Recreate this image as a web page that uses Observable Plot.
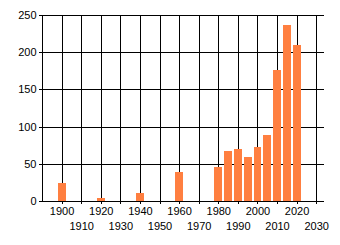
<!DOCTYPE html>
<html>
<head>
<meta charset="utf-8">
<script src="https://cdn.jsdelivr.net/npm/d3@7"></script>
<script src="https://cdn.jsdelivr.net/npm/@observablehq/plot@0.6"></script>
<style>
  html, body { margin: 0; padding: 0; background: #fff; }
  svg line, svg path, svg rect { shape-rendering: crispEdges; }
</style>
</head>
<body>
<div id="chart"></div>
<script>
const years = [1900, 1920, 1940, 1960, 1980, 1985, 1990, 1995, 2000, 2005, 2010, 2015, 2020];
const values = [24, 4, 11, 39, 46, 67, 70, 59, 73, 89, 176, 236, 210];
const xTicksRow1 = [1900, 1920, 1940, 1960, 1980, 2000, 2020];
const xTicksRow2 = [1910, 1930, 1950, 1970, 1990, 2010, 2030];
const xTicksAll = [...xTicksRow1, ...xTicksRow2].sort((a, b) => a - b);
const yTicks = [0, 50, 100, 150, 200, 250];

const data = years.map((year, i) => ({year, value: values[i]}));
const halfBar = 2;

const chart = Plot.plot({
  width: 340,
  height: 245,
  marginLeft: 42,
  marginRight: 16,
  marginTop: 15,
  marginBottom: 44,
  style: {fontFamily: "Liberation Sans, Arial, sans-serif", fontSize: "11px", color: "#000", background: "#fff"},
  x: {domain: [1890, 2034], label: null},
  y: {domain: [0, 250], label: null},
  marks: [
    Plot.gridY(yTicks, {stroke: "#000", strokeOpacity: 1}),
    Plot.gridX(xTicksAll, {stroke: "#000", strokeOpacity: 1}),
    Plot.rectY(data, {x1: d => d.year - halfBar, x2: d => d.year + halfBar, y: "value", fill: "#ff7f40"}),
    Plot.ruleX([1890], {stroke: "#000"}),
    Plot.ruleY([0], {stroke: "#000"}),
    Plot.axisY(yTicks, {tickSize: 3, tickPadding: 3, tickFormat: d => String(d), label: null}),
    Plot.axisX(xTicksAll, {tickSize: 3, tickFormat: () => "", label: null}),
    Plot.axisX(xTicksRow1, {tickSize: 0, tickPadding: 6, tickFormat: d => String(d), label: null}),
    Plot.axisX(xTicksRow2, {tickSize: 0, tickPadding: 21, tickFormat: d => String(d), label: null})
  ]
});
document.getElementById("chart").appendChild(chart);
</script>
</body>
</html>
